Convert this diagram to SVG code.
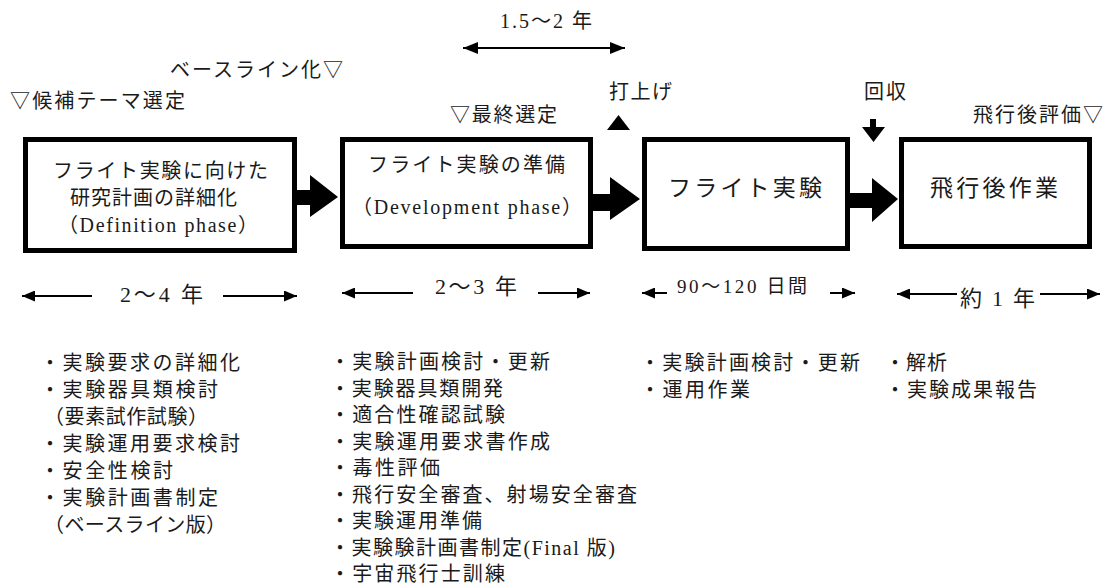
<svg xmlns="http://www.w3.org/2000/svg" width="1109" height="588" viewBox="0 0 1109 588">
<style>
text{font-family:"Liberation Serif","Noto Sans CJK JP",serif;fill:#1a1a1a;font-size:20px}
.box{fill:#fff;stroke:#000;stroke-width:5}
.big{font-size:23px}
.li{font-size:20px}
.dt{font-size:22px}
.dur{stroke:#000;stroke-width:2;fill:none}
.blk{fill:#000}
</style>
<defs>
<marker id="ah" viewBox="0 0 13 11" refX="13" refY="5.5" markerWidth="13" markerHeight="11" markerUnits="userSpaceOnUse" orient="auto-start-reverse"><path d="M0,0 L13,5.5 L0,11 Z" fill="#000"/></marker>
<marker id="ah2" viewBox="0 0 15 12" refX="15" refY="6" markerWidth="15" markerHeight="12" markerUnits="userSpaceOnUse" orient="auto-start-reverse"><path d="M0,0 L15,6 L0,12 Z" fill="#000"/></marker>
</defs>
<rect width="1109" height="588" fill="#fff"/>

<g id="milestones">
<text x="170" y="77" textLength="173">ベースライン化▽</text>
<text x="10" y="108" textLength="175">▽候補テーマ選定</text>
<text x="500" y="28" textLength="92">1.5～2 年</text>
<line class="dur" x1="463" y1="48" x2="625" y2="48" marker-start="url(#ah2)" marker-end="url(#ah2)"/>
<text x="609" y="99" textLength="63">打上げ</text>
<polygon class="blk" points="607,130 618.5,115 630,130"/>
<text x="450" y="122" textLength="107">▽最終選定</text>
<text x="864" y="99" textLength="42">回収</text>
<path class="blk" d="M870,119 H876 V127 H885 L873.5,142 L862,127 H870 Z"/>
<text x="973" y="122" textLength="130">飛行後評価▽</text>
</g>

<g id="node-definition">
<rect class="box" x="25.5" y="139.5" width="269" height="111"/>
<text x="53" y="178" textLength="215">フライト実験に向けた</text>
<text x="70" y="205" textLength="167">研究計画の詳細化</text>
<text x="58" y="232" textLength="200">（Definition phase）</text>
</g>

<g id="node-development">
<rect class="box" x="342.5" y="139.5" width="248" height="107"/>
<text x="368" y="172" textLength="197">フライト実験の準備</text>
<text x="352" y="214" textLength="230">（Development phase）</text>
</g>

<g id="node-flight">
<rect class="box" x="644.5" y="139.5" width="203" height="109"/>
<text class="big" x="668" y="196" textLength="154">フライト実験</text>
</g>

<g id="node-post">
<rect class="box" x="901.5" y="139.5" width="188" height="107"/>
<text class="big" x="930" y="196" textLength="128">飛行後作業</text>
</g>

<g id="connectors">
<polygon class="blk" points="296,190 310,190 310,175 338,197 310,217 310,205 296,205"/>
<polygon class="blk" points="592,194 610,194 610,177 640,199 610,220 610,211 592,211"/>
<polygon class="blk" points="849,193 872,193 872,178 898,199 872,222 872,208 849,208"/>
</g>

<g id="durations">
<line class="dur" x1="92" y1="296" x2="22" y2="296" marker-end="url(#ah)"/>
<text class="dt" x="120" y="302" textLength="83">2～4 年</text>
<line class="dur" x1="223" y1="296" x2="297" y2="296" marker-end="url(#ah)"/>
<line class="dur" x1="413" y1="293" x2="342" y2="293" marker-end="url(#ah)"/>
<text class="dt" x="435" y="294" textLength="82">2～3 年</text>
<line class="dur" x1="538" y1="293" x2="590" y2="293" marker-end="url(#ah)"/>
<line class="dur" x1="667" y1="293" x2="642" y2="293" marker-end="url(#ah)"/>
<text x="677" y="293" style="font-size:19px" textLength="130">90～120 日間</text>
<line class="dur" x1="830" y1="293" x2="855" y2="293" marker-end="url(#ah)"/>
<line class="dur" x1="957" y1="294" x2="897" y2="294" marker-end="url(#ah)"/>
<text class="dt" x="960" y="306" textLength="75">約 1 年</text>
<line class="dur" x1="1040" y1="294" x2="1100" y2="294" marker-end="url(#ah)"/>
</g>

<g id="list-definition" class="li">
<text x="40" y="370" textLength="200">・実験要求の詳細化</text>
<text x="40" y="397" textLength="178">・実験器具類検討</text>
<text x="44" y="424" textLength="164">（要素試作試験）</text>
<text x="40" y="451" textLength="200">・実験運用要求検討</text>
<text x="40" y="478" textLength="133">・安全性検討</text>
<text x="40" y="505" textLength="178">・実験計画書制定</text>
<text x="44" y="532" textLength="182">（ベースライン版）</text>
</g>

<g id="list-development" class="li">
<text x="330" y="369" textLength="220">・実験計画検討・更新</text>
<text x="330" y="395.5" textLength="173">・実験器具類開発</text>
<text x="330" y="422" textLength="175">・適合性確認試験</text>
<text x="330" y="448.5" textLength="220">・実験運用要求書作成</text>
<text x="330" y="475" textLength="110">・毒性評価</text>
<text x="330" y="501.5" textLength="307">・飛行安全審査、射場安全審査</text>
<text x="330" y="528" textLength="152">・実験運用準備</text>
<text x="330" y="554.5" textLength="285">・実験験計画書制定(Final 版)</text>
<text x="330" y="581" textLength="175">・宇宙飛行士訓練</text>
</g>

<g id="list-flight" class="li">
<text x="640" y="370" textLength="220">・実験計画検討・更新</text>
<text x="640" y="397" textLength="110">・運用作業</text>
</g>

<g id="list-post" class="li">
<text x="885" y="370" textLength="62">・解析</text>
<text x="885" y="397" textLength="152">・実験成果報告</text>
</g>
</svg>
